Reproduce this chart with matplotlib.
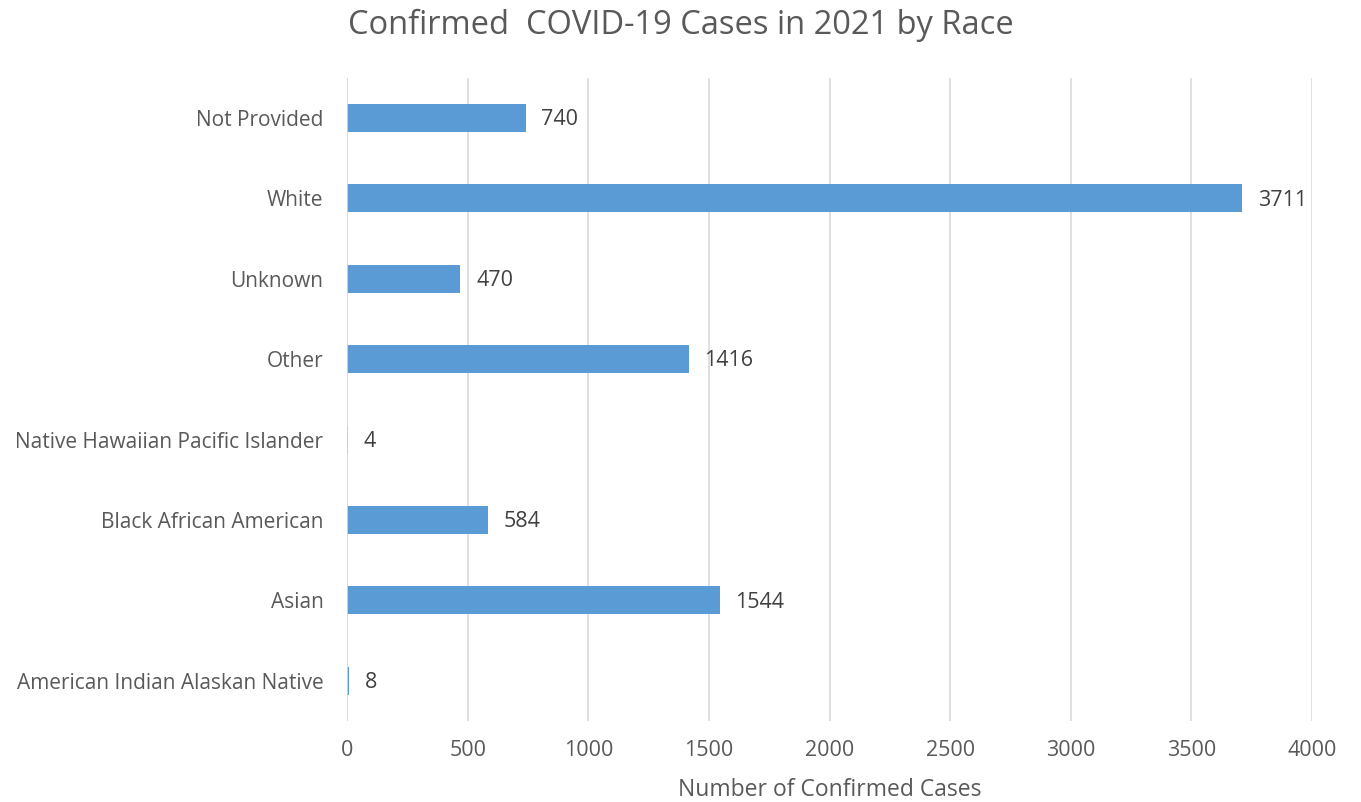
import matplotlib.pyplot as plt

# Chart data
races = [
    "American Indian Alaskan Native",
    "Asian",
    "Black African American",
    "Native Hawaiian Pacific Islander",
    "Other",
    "Unknown",
    "White",
    "Not Provided",
]
cases = [8, 1544, 584, 4, 1416, 470, 3711, 740]
x_ticks = [0, 500, 1000, 1500, 2000, 2500, 3000, 3500, 4000]

text_color = "#595959"
plt.rcParams["font.family"] = ["Open Sans", "DejaVu Sans"]

fig = plt.figure(figsize=(13.61, 8.02), dpi=100)
ax = fig.add_axes([0.255, 0.101, 0.709, 0.802])

bars = ax.barh(range(len(races)), cases, height=0.35, color="#5B9BD5", zorder=3)
for bar, val in zip(bars, cases):
    ax.text(bar.get_width() + 65, bar.get_y() + bar.get_height() / 2 - 0.02, str(val),
            va="center", ha="left", fontsize=15.5, color="#404040")

ax.set_xlim(0, 4000)
ax.set_ylim(-0.5, len(races) - 0.5)
ax.set_xticks(x_ticks)
ax.set_yticks(range(len(races)))
ax.set_yticklabels(races)
ax.tick_params(axis="both", length=0, labelsize=15, labelcolor=text_color)
ax.tick_params(axis="x", labelsize=15.5, pad=14)
ax.tick_params(axis="y", pad=17)
ax.grid(axis="x", color="#D9D9D9", linewidth=1.2, zorder=0)
for side in ["top", "right", "bottom", "left"]:
    ax.spines[side].set_visible(False)
ax.axvline(0, color="#D9D9D9", linewidth=1.2, zorder=4)

ax.set_xlabel("Number of Confirmed Cases", fontsize=16.5, color=text_color, labelpad=12)
fig.text(0.5, 0.968, "Confirmed  COVID-19 Cases in 2021 by Race", ha="center", va="center",
         fontsize=23.5, color=text_color)

fig.savefig("out.png", dpi=100)
